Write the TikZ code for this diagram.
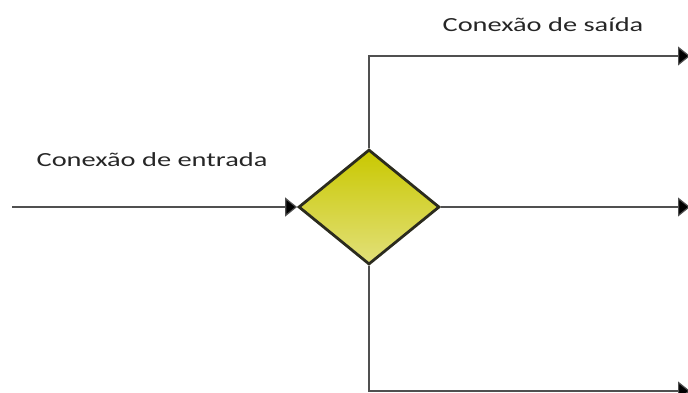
\documentclass[tikz,border=0pt]{standalone}
\usepackage{fontspec}
\setmainfont{Carlito}
\usetikzlibrary{arrows.meta,shapes.geometric}
\definecolor{linegray}{HTML}{505050}
\definecolor{gwtop}{HTML}{C9C800}
\definecolor{gwbot}{HTML}{E2E07A}
\definecolor{gwline}{HTML}{2B2B1E}
\tikzset{
  flow/.style={draw=linegray,line width=1.2pt,-{Triangle[length=12pt,width=19pt,fill=black]}},
  gateway/.style={diamond,draw=gwline,line width=2.8pt,top color=gwtop,bottom color=gwbot,
    minimum width=141pt,minimum height=115pt,inner sep=0pt},
  label/.style={font=\fontsize{20}{24}\selectfont,text=black!85,anchor=base,
    xscale=1.42,transform shape}
}
\begin{document}
\begin{tikzpicture}[x=1pt,y=-1pt]
\useasboundingbox (0,0) rectangle (688,392);
% gateway
\node[gateway] (gw) at (369,207) {};
% free ends
\coordinate (src) at (12,207);
\coordinate (outA) at (690,56);
\coordinate (outB) at (690,207);
\coordinate (outC) at (690,391);
% connectors
\draw[flow] (src) -- (gw.west);
\draw[flow] (gw.north) |- (outA);
\draw[flow] (gw.east) -- (outB);
\draw[flow] (gw.south) |- (outC);
% labels
\node[label] (inlbl) at (152,166) {Conexão de entrada};
\node[label] (outlbl) at (543,31) {Conexão de saída};
\end{tikzpicture}
\end{document}
